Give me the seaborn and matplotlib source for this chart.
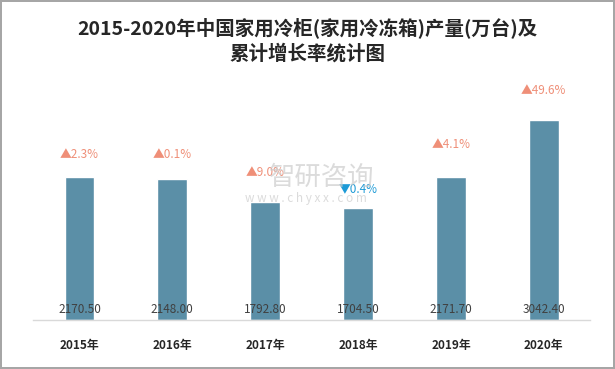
import matplotlib
matplotlib.use("Agg")
import matplotlib.pyplot as plt
import seaborn as sns
import numpy as np

years = ["2015年", "2016年", "2017年", "2018年", "2019年", "2020年"]
output = [2170.50, 2148.00, 1792.80, 1704.50, 2171.70, 3042.40]
growth = [2.3, 0.1, 9.0, 0.4, 4.1, 49.6]
growth_up = [True, True, True, False, True, True]

# vertical gap (px) between bar top and growth label, as in the original layout
label_gap = [23, 24, 30, 19, 33, 30]

sns.set_theme(style="white")
plt.rcParams["font.family"] = ["Noto Sans CJK SC", "DejaVu Sans"]

fig = plt.figure(figsize=(6.15, 3.69), dpi=100, facecolor="white",
                 edgecolor="#a6a6a6", linewidth=1.5)
ax = fig.add_axes([0.0537, 0.1328, 0.906, 0.65])

sns.barplot(x=years, y=output, color="#5b8fa7", saturation=1, width=0.32, ax=ax)
ax.set_ylim(0, 3650)
ax.set_yticks([])
for s in ["top", "right", "left"]:
    ax.spines[s].set_visible(False)
ax.spines["bottom"].set_color("#d9d9d9")
ax.spines["bottom"].set_linewidth(1)
ax.tick_params(axis="x", length=0, pad=14)
for lbl in ax.get_xticklabels():
    lbl.set_fontsize(8.5)
    lbl.set_fontweight("bold")
    lbl.set_color("#262626")

for i, v in enumerate(output):
    ax.annotate(f"{v:.2f}", (i, 0), xytext=(0, 10), textcoords="offset pixels",
                ha="center", va="center", fontsize=8.5, color="#404040")
    up = growth_up[i]
    mark = "▲" if up else "▼"
    col = "#ef8f78" if up else "#1c9ad6"
    ax.annotate(f"{mark}{growth[i]}%", (i, v), xytext=(0, label_gap[i]),
                textcoords="offset pixels", ha="center", va="center",
                fontsize=8.5, color=col, zorder=5)

# watermark (behind the labels)
fig.text(0.523, 0.518, "智研咨询", ha="center", va="center", fontsize=19,
         color="#cccccc", alpha=0.7, zorder=0)
fig.text(0.497, 0.463, "w w w . c h y x x . c o m", ha="center", va="center",
         fontsize=8.5, color="#cccccc", alpha=0.7, zorder=0)

fig.text(0.5, 0.925, "2015-2020年中国家用冷柜(家用冷冻箱)产量(万台)及",
         ha="center", va="center", fontsize=14, fontweight="bold", color="#262626")
fig.text(0.5, 0.855, "累计增长率统计图", ha="center", va="center",
         fontsize=14, fontweight="bold", color="#262626")

fig.savefig("out.png", dpi=100, edgecolor=fig.get_edgecolor())
